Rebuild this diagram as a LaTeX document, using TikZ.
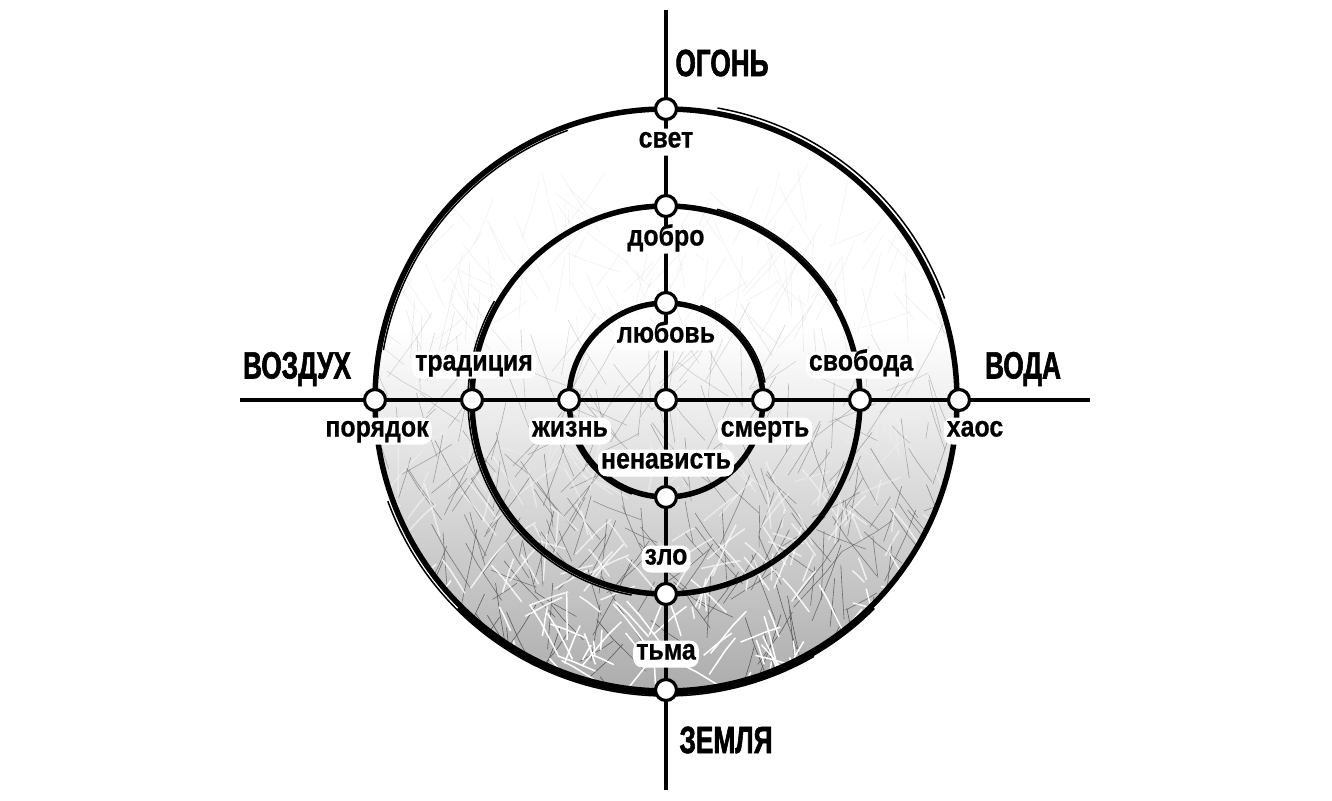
\documentclass[tikz,border=0pt]{standalone}
\usepackage{fontspec}
\setmainfont{Liberation Sans}
\newfontfamily\labfont{Liberation Sans Bold}[FakeStretch=0.86,FakeBold=0.6]
\newfontfamily\elfont{Liberation Sans Bold}[FakeStretch=0.69,FakeBold=1.5]
\tikzset{
  ring/.style={line width=5.5pt, black},
  ringthin/.style={line width=1.5pt, black},
  axis/.style={line width=4.5pt, black},
  pt/.style={circle, draw=black, line width=3.2pt, fill=white, minimum size=21pt, inner sep=0pt},
  lab/.style={font=\labfont\fontsize{29}{29}\selectfont, fill=white, rounded corners=9pt, inner sep=3pt, text height=16pt, text depth=5pt},
  el/.style={font=\elfont\fontsize{38}{38}\selectfont, inner sep=0pt},
  twig/.style={line width=0.6pt}
}
\begin{document}
\begin{tikzpicture}[x=1pt,y=-1pt]
\useasboundingbox (0,0) rectangle (1332,800);
\fill[white] (0,0) rectangle (1332,800);
\coordinate (C) at (666,400);
% background texture
\begin{scope}
  \clip (C) circle[radius=291pt];
  \shade[top color=white, bottom color=gray!65] (360,330) rectangle (972,692);
  \pgfmathsetseed{11}
  \foreach \i in {1,...,460}{
    \pgfmathsetmacro\xa{375+rnd*584}
    \pgfmathsetmacro\ya{220+rnd*480}
    \pgfmathsetmacro\op{max(0.08,min(1,(\ya-300)/380))}
    \pgfmathsetmacro\dx{rand*35}
    \pgfmathsetmacro\dy{-10-rnd*40}
    \draw[twig, draw=gray!70!black, draw opacity=\op] (\xa,\ya) -- ++(\dx,\dy) -- ++(\dx*0.5,\dy*0.6);
  }
  \foreach \i in {1,...,260}{
    \pgfmathsetmacro\xa{375+rnd*584}
    \pgfmathsetmacro\ya{420+rnd*290}
    \pgfmathsetmacro\op{max(0,min(1,(\ya-420)/220))}
    \pgfmathsetmacro\dx{rand*25}
    \pgfmathsetmacro\dy{-5-rnd*30}
    \draw[line width=1.5pt, draw=white, draw opacity=\op] (\xa,\ya) -- ++(\dx,\dy) -- ++(\dx*0.6,\dy*0.5);
  }
\end{scope}
% rings
\draw[ring] (C) circle[radius=291pt];
\draw[ringthin] (C) ++(200:296pt) arc[start angle=200, end angle=300, radius=296pt];
\draw[ringthin] (C) ++(20:296.5pt) arc[start angle=20, end angle=80, radius=296.5pt];
\draw[ringthin] (C) ++(110:287pt) arc[start angle=110, end angle=170, radius=287pt];
\draw[line width=3pt] (C) ++(225:294pt) arc[start angle=225, end angle=315, radius=294pt];
\draw[ring] (C) circle[radius=194pt];
\draw[ringthin] (C) ++(150:198pt) arc[start angle=150, end angle=260, radius=198pt];
\draw[ringthin] (C) ++(30:197.5pt) arc[start angle=30, end angle=75, radius=197.5pt];
\draw[ring] (C) circle[radius=97pt];
\draw[ringthin] (C) ++(10:100.5pt) arc[start angle=10, end angle=70, radius=100.5pt];
\draw[ringthin] (C) ++(200:100pt) arc[start angle=200, end angle=250, radius=100pt];
% axes
\coordinate (top) at (666,10);
\coordinate (bot) at (666,790);
\coordinate (lft) at (240,400);
\coordinate (rgt) at (1090,400);
\draw[axis] (top) -- (bot);
\draw[axis] (lft) -- (rgt);
% points
\node[pt] (o1) at (666,109) {};
\node[pt] (o2) at (666,206) {};
\node[pt] (o3) at (666,303) {};
\node[pt] (c0) at (666,400) {};
\node[pt] (u3) at (666,497) {};
\node[pt] (u2) at (666,594) {};
\node[pt] (u1) at (666,690) {};
\node[pt] (l1) at (375,400) {};
\node[pt] (l2) at (472,400) {};
\node[pt] (l3) at (569,400) {};
\node[pt] (r3) at (763,400) {};
\node[pt] (r2) at (860,400) {};
\node[pt] (r1) at (959,400) {};
% labels
\node[lab] (svet) at (666,142) {свет};
\node[lab] (dobro) at (666,240) {добро};
\node[lab] (lubov) at (666,337) {любовь};
\node[lab] (trad) at (474,365) {традиция};
\node[lab] (svob) at (861,365) {свобода};
\node[lab] (por) at (377,431) {порядок};
\node[lab] (zhizn) at (570,431) {жизнь};
\node[lab] (smert) at (765,431) {смерть};
\node[lab] (haos) at (975,431) {хаос};
\node[lab] (nenav) at (666,463) {ненависть};
\node[lab] (zlo) at (666,559) {зло};
\node[lab] (tma) at (666,654) {тьма};
% elements
\node[el] (fire) at (722,63) {ОГОНЬ};
\node[el] (air) at (297,369) {ВОЗДУХ};
\node[el] (water) at (1023,369) {ВОДА};
\node[el] (earth) at (726,740) {ЗЕМЛЯ};
\end{tikzpicture}
\end{document}
